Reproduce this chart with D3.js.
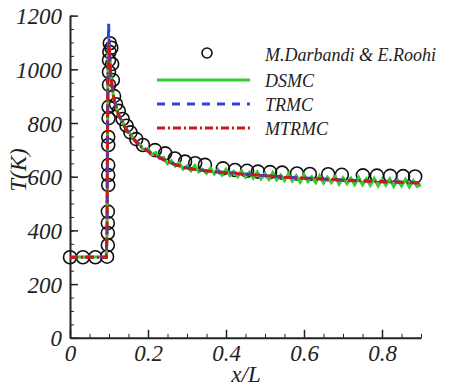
<!DOCTYPE html>
<html>
<head>
<meta charset="utf-8">
<script src="https://cdn.jsdelivr.net/npm/d3@7"></script>
<style>
  body { margin: 0; background: #fff; }
  svg text { font-family: "Liberation Serif", "Times New Roman", serif; font-style: italic; fill: #222; }
</style>
</head>
<body>
<svg id="chart" width="471" height="388"></svg>
<script>
// Reference data (Darbandi & Roohi)
const refX = [0, 0.033, 0.065, 0.095, 0.097, 0.097, 0.097, 0.097, 0.098, 0.098, 0.098, 0.098, 0.098,
  0.099, 0.099, 0.1, 0.1, 0.1, 0.101, 0.102, 0.106, 0.108, 0.11, 0.113, 0.118, 0.125, 0.135, 0.145,
  0.155, 0.17, 0.187, 0.218, 0.244, 0.269, 0.295, 0.321, 0.346, 0.392, 0.423, 0.454, 0.482, 0.513,
  0.544, 0.582, 0.615, 0.662, 0.697, 0.751, 0.787, 0.821, 0.854, 0.885];
const refT = [300, 300, 300, 302, 345, 390, 427, 470, 569, 606, 643, 718, 748,
  818, 860, 942, 990, 1034, 1065, 1097, 1080, 1020, 960, 900, 870, 845, 815, 790,
  765, 740, 718, 699, 687, 668, 656, 650, 644, 631, 625, 622, 619, 617,
  615, 612, 610, 609, 607, 605, 604, 603, 602, 601];

// smooth solutions
const solX = [0, 0.05, 0.093, 0.095, 0.096, 0.097, 0.098, 0.099, 0.1, 0.102, 0.104, 0.108, 0.112,
  0.118, 0.125, 0.135, 0.145, 0.155, 0.175, 0.205, 0.239, 0.27, 0.3, 0.35, 0.4, 0.45, 0.5, 0.55,
  0.6, 0.65, 0.7, 0.75, 0.8, 0.85, 0.9];
const trmcT = [300, 300, 300, 400, 700, 950, 1080, 1170, 1120, 1040, 980, 935, 895,
  860, 830, 800, 775, 755, 722, 690, 665, 645, 632, 622, 616, 610, 604, 599,
  595, 591, 588, 585, 582, 580, 577];
const mtrmcT = [300, 300, 300, 400, 700, 950, 1060, 1095, 1100, 1050, 985, 935, 895,
  860, 828, 800, 774, 754, 720, 689, 664, 645, 631, 621, 615, 609, 604, 598,
  594, 591, 587, 584, 581, 579, 576];

// DSMC (noisy)
const dsmcX = [0, 0.05, 0.093, 0.095, 0.096, 0.097, 0.098, 0.099, 0.1, 0.102, 0.104, 0.108, 0.112,
  0.118, 0.125, 0.135, 0.145, 0.155, 0.165, 0.175, 0.185, 0.195,
  0.20, 0.21, 0.22, 0.23, 0.24, 0.25, 0.26, 0.27, 0.28, 0.29, 0.30, 0.31, 0.32, 0.33, 0.34, 0.35,
  0.36, 0.37, 0.38, 0.39, 0.40, 0.41, 0.42, 0.43, 0.44, 0.45, 0.46, 0.47, 0.48, 0.49, 0.50, 0.51,
  0.52, 0.53, 0.54, 0.55, 0.56, 0.57, 0.58, 0.59, 0.60, 0.61, 0.62, 0.63, 0.64, 0.65, 0.66, 0.67,
  0.68, 0.69, 0.70, 0.71, 0.72, 0.73, 0.74, 0.75, 0.76, 0.77, 0.78, 0.79, 0.80, 0.81, 0.82, 0.83,
  0.84, 0.85, 0.86, 0.87, 0.88, 0.89, 0.90];
const dsmcT = [300, 302, 300, 400, 700, 950, 1060, 1090, 1100, 1045, 985, 940, 890,
  865, 825, 805, 770, 760, 735, 728, 705, 700,
  705, 682, 690, 668, 672, 648, 660, 640, 652, 628, 640, 622, 642, 618, 628, 612,
  632, 610, 626, 606, 628, 604, 620, 600, 622, 598, 616, 594, 618, 592, 612, 590,
  615, 588, 606, 586, 610, 584, 604, 580, 608, 582, 600, 578, 604, 576, 598, 578,
  600, 572, 596, 574, 594, 570, 598, 570, 592, 568, 594, 566, 590, 568, 592, 564,
  588, 566, 590, 562, 586, 564, 570];

const xTicks = [0, 0.2, 0.4, 0.6, 0.8];
const yTicks = [0, 200, 400, 600, 800, 1000, 1200];
const legendNames = ["M.Darbandi & E.Roohi", "DSMC", "TRMC", "MTRMC"];

const svg = d3.select("#chart");
const x = d3.scaleLinear().domain([0, 0.9]).range([70, 421]);
const y = d3.scaleLinear().domain([0, 1200]).range([337.8, 15.6]);

function serif(sel, size) {
    sel.style("font-family", "Liberation Serif")
        .style("font-style", "italic")
        .style("font-size", size + "px")
        .attr("fill", "#222");
}

// minor ticks
svg.append("g")
    .attr("transform", "translate(0,337.8)")
    .call(d3.axisBottom(x).tickValues(d3.range(0, 0.901, 0.05)).tickSize(-4).tickFormat(""))
    .call(g => g.select(".domain").remove())
    .selectAll("line").attr("stroke", "#222").attr("stroke-width", 1);
svg.append("g")
    .attr("transform", "translate(70,0)")
    .call(d3.axisLeft(y).tickValues(d3.range(0, 1201, 50)).tickSize(-4).tickFormat(""))
    .call(g => g.select(".domain").remove())
    .selectAll("line").attr("stroke", "#222").attr("stroke-width", 1);

// major axes
const xAxis = svg.append("g")
    .attr("transform", "translate(0,337.8)")
    .call(d3.axisBottom(x).tickValues(xTicks).tickSize(-8).tickSizeOuter(0)
        .tickFormat(d => d === 0 ? "0" : d3.format(".1f")(d)));
const yAxis = svg.append("g")
    .attr("transform", "translate(70,0)")
    .call(d3.axisLeft(y).tickValues(yTicks).tickSize(-8).tickSizeOuter(0).tickPadding(8)
        .tickFormat(d3.format("d")));
[xAxis, yAxis].forEach(a => {
    a.select(".domain").attr("stroke", "#222").attr("stroke-width", 2);
    a.selectAll(".tick line").attr("stroke", "#222").attr("stroke-width", 1.5);
    a.selectAll("text").call(serif, 23);
});
xAxis.selectAll("text").attr("y", 6).attr("dy", "0.75em");
yAxis.selectAll("text").attr("dy", "0.35em");

// axis titles
svg.append("text").attr("x", 246).attr("y", 382).attr("text-anchor", "middle")
    .call(serif, 23).text("x/L");
svg.append("text").attr("transform", "translate(26,170) rotate(-90)").attr("text-anchor", "middle")
    .call(serif, 23).text("T(K)");

// reference circles
svg.append("g").selectAll("circle")
    .data(refX.map((d, i) => [d, refT[i]]))
    .join("circle")
    .attr("cx", d => x(d[0])).attr("cy", d => y(d[1])).attr("r", 6.5)
    .attr("fill", "none").attr("stroke", "#111").attr("stroke-width", 1.6);

const line = d3.line().x(d => x(d[0])).y(d => y(d[1]));
const styles = [
    { name: "DSMC", xs: dsmcX, ts: dsmcT, color: "#33cc33", width: 3, dash: null },
    { name: "TRMC", xs: solX, ts: trmcT, color: "#3340dd", width: 3, dash: "8,7" },
    { name: "MTRMC", xs: solX, ts: mtrmcT, color: "#cc1818", width: 3, dash: "8,3,2,3" }
];
styles.forEach(s => {
    svg.append("path")
        .datum(s.xs.map((d, i) => [d, s.ts[i]]))
        .attr("d", line)
        .attr("fill", "none").attr("stroke", s.color).attr("stroke-width", s.width)
        .attr("stroke-dasharray", s.dash);
});

// legend
const lg = svg.append("g");
lg.append("circle").attr("cx", 207).attr("cy", 53).attr("r", 5)
    .attr("fill", "none").attr("stroke", "#111").attr("stroke-width", 1.6);
lg.append("text").attr("x", 265).attr("y", 61).call(serif, 18).text(legendNames[0]);
styles.forEach((s, i) => {
    const ly = 80 + i * 24;
    lg.append("line").attr("x1", 157).attr("x2", 250).attr("y1", ly).attr("y2", ly)
        .attr("stroke", s.color).attr("stroke-width", 3).attr("stroke-dasharray", s.dash);
    lg.append("text").attr("x", 265).attr("y", ly + 7).call(serif, 18).text(legendNames[i + 1]);
});
</script>
</body>
</html>
